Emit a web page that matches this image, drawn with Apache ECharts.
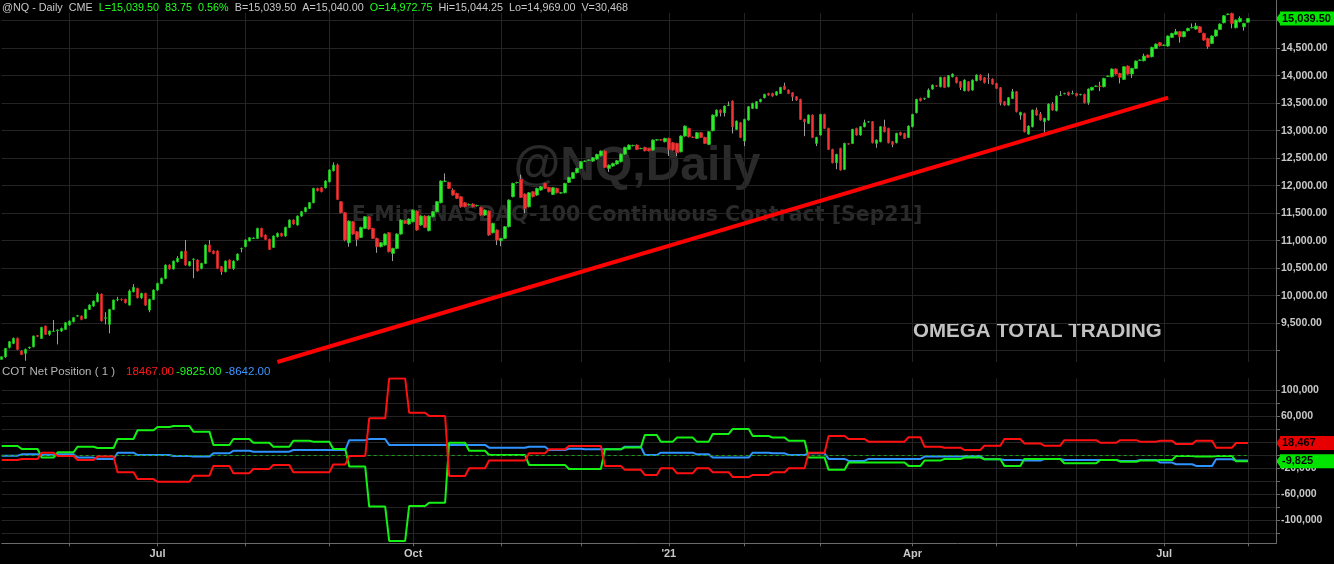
<!DOCTYPE html>
<html>
<head>
<meta charset="utf-8">
<title>@NQ Daily - COT Net Position</title>
<script src="https://cdn.jsdelivr.net/npm/echarts@6/dist/echarts.min.js"></script>
<style>
  html, body { margin: 0; padding: 0; background: #000; }
  #main { width: 1334px; height: 564px; }
</style>
</head>
<body>
<div id="main"></div>
<script>
// exchange holidays, no daily bar on these days
const holidays = ['2020-05-25', '2020-07-03', '2020-09-07', '2020-11-26', '2020-12-25',
  '2021-01-01', '2021-01-18', '2021-02-15', '2021-04-02', '2021-05-31', '2021-07-05']
const firstDay = '2020-05-06'
const slotCount = 320 // 313 bars + empty room before the price scale

// daily bars [open, close, low, high]
const ohlc = [
  [8842, 8891, 8820, 8905], [8891, 9042, 8870, 9050], [9061, 9164, 9040, 9175], [9133, 9224, 9120, 9240],
  [9224, 9024, 9010, 9240], [8994, 8933, 8920, 9010], [8952, 9024, 8818, 9040], [9050, 9061, 9030, 9075],
  [9073, 9267, 9060, 9275], [9275, 9262, 9250, 9285], [9224, 9424, 9215, 9435], [9448, 9297, 9290, 9455],
  [9297, 9358, 9270, 9365], [9352, 9358, 9340, 9558], [9365, 9376, 9115, 9390], [9358, 9406, 9340, 9420],
  [9388, 9509, 9380, 9520], [9467, 9539, 9455, 9550], [9527, 9600, 9515, 9612], [9630, 9636, 9620, 9650],
  [9630, 9570, 9555, 9640], [9588, 9751, 9575, 9760], [9751, 9830, 9740, 9845], [9812, 9903, 9800, 9915],
  [9891, 10030, 9880, 10060], [10030, 9545, 9530, 10040], [9590, 9600, 9480, 9700], [9479, 9751, 9315, 9760],
  [9751, 9921, 9740, 9930], [9927, 9933, 9900, 9980], [9933, 9930, 9910, 9950], [9933, 9873, 9860, 9945],
  [9830, 10085, 9820, 10115], [10073, 10151, 10060, 10210], [10133, 9964, 9950, 10145], [9964, 10042, 9940, 10055],
  [10042, 9830, 9815, 10055], [9740, 9933, 9700, 9945], [9933, 10103, 9920, 10115], [10103, 10224, 10090, 10235],
  [10224, 10315, 10210, 10330], [10315, 10558, 10300, 10570], [10558, 10485, 10475, 10570], [10485, 10630, 10475, 10640],
  [10618, 10679, 10605, 10720], [10679, 10800, 10670, 10815], [10812, 10558, 10545, 11012], [10545, 10618, 10535, 10630],
  [10660, 10667, 10320, 10680], [10648, 10454, 10440, 10660], [10497, 10588, 10480, 10600], [10588, 10921, 10575, 10935],
  [10921, 10800, 10790, 11012], [10812, 10769, 10755, 10825], [10812, 10497, 10485, 10825], [10527, 10436, 10380, 10540],
  [10436, 10630, 10425, 10640], [10648, 10497, 10485, 10660], [10497, 10630, 10470, 10645], [10648, 10757, 10636, 10770],
  [10855, 10860, 10790, 10875], [10891, 11012, 10880, 11025], [10994, 11054, 10985, 11065], [11040, 11048, 11030, 11060],
  [11042, 11224, 11030, 11235], [11224, 11073, 11060, 11235], [11103, 11024, 11012, 11115], [11024, 10842, 10830, 11036],
  [10879, 11085, 10870, 11097], [11073, 11133, 11060, 11150], [11133, 11085, 11075, 11145], [11085, 11242, 11073, 11255],
  [11242, 11376, 11230, 11388], [11376, 11303, 11290, 11388], [11285, 11448, 11273, 11460], [11448, 11527, 11436, 11540],
  [11527, 11600, 11515, 11615], [11588, 11691, 11576, 11703], [11691, 11951, 11680, 11963], [11951, 11909, 11897, 11963],
  [11963, 11891, 11880, 11975], [11963, 12085, 11950, 12100], [12072, 12285, 12060, 12300], [12272, 12375, 12260, 12424],
  [12375, 11751, 11740, 12400], [11709, 11509, 11497, 11721], [11509, 11012, 10990, 11521], [10963, 11357, 10891, 11370],
  [11345, 11121, 11109, 11357], [11163, 11024, 10900, 11175], [11060, 11242, 11048, 11255], [11224, 11436, 11212, 11448],
  [11436, 11212, 11200, 11448], [11224, 11042, 11030, 11236], [11042, 10891, 10780, 11054], [10891, 10963, 10880, 10975],
  [10921, 11121, 10909, 11133], [11145, 10800, 10788, 11157], [10769, 10860, 10630, 10872], [10860, 11121, 10848, 11133],
  [11121, 11376, 11109, 11388], [11364, 11315, 11303, 11376], [11303, 11394, 11291, 11406], [11345, 11557, 11333, 11569],
  [11539, 11194, 11182, 11551], [11285, 11448, 11273, 11460], [11448, 11242, 11230, 11460], [11182, 11448, 11170, 11460],
  [11436, 11527, 11424, 11539], [11527, 11709, 11515, 11721], [11691, 12085, 11679, 12097], [12078, 12085, 12066, 12224],
  [12060, 11951, 11939, 12072], [11921, 11830, 11818, 11950], [11860, 11769, 11757, 11872], [11800, 11618, 11600, 11812],
  [11690, 11618, 11606, 11702], [11655, 11660, 11640, 11675], [11666, 11618, 11606, 11680], [11636, 11640, 11620, 11655],
  [11606, 11466, 11454, 11618], [11466, 11557, 11454, 11570], [11539, 11103, 11090, 11551], [11145, 11315, 11133, 11327],
  [11194, 11012, 10921, 11206], [11000, 11042, 10900, 11054], [11042, 11254, 11030, 11266], [11254, 11739, 11242, 11751],
  [11800, 12042, 11788, 12054], [12054, 12060, 12040, 12072], [12115, 11788, 11776, 12200], [11848, 11588, 11500, 11860],
  [11618, 11872, 11606, 11884], [11891, 11800, 11788, 11903], [11830, 11951, 11818, 11963], [11921, 11982, 11909, 11994],
  [12042, 11951, 11939, 12054], [11969, 11891, 11879, 11981], [11842, 11963, 11830, 11975], [11951, 11872, 11860, 11963],
  [11866, 11872, 11854, 11884], [11872, 12042, 11860, 12054], [12060, 12151, 12048, 12163], [12133, 12236, 12121, 12248],
  [12236, 12315, 12224, 12327], [12315, 12436, 12303, 12448], [12442, 12448, 12430, 12460], [12460, 12466, 12448, 12478],
  [12448, 12509, 12436, 12521], [12485, 12569, 12473, 12581], [12545, 12630, 12533, 12642], [12630, 12333, 12321, 12642],
  [12315, 12375, 12250, 12387], [12357, 12406, 12345, 12418], [12394, 12454, 12382, 12466], [12436, 12575, 12424, 12587],
  [12575, 12697, 12563, 12709], [12660, 12739, 12648, 12751], [12727, 12733, 12715, 12745], [12739, 12660, 12648, 12751],
  [12675, 12678, 12663, 12690], [12697, 12636, 12624, 12709], [12678, 12636, 12624, 12690], [12648, 12830, 12636, 12842],
  [12830, 12836, 12818, 12848], [12836, 12830, 12818, 12848], [12800, 12860, 12788, 12872], [12860, 12660, 12540, 12872],
  [12781, 12648, 12636, 12793], [12769, 12600, 12540, 12781], [12618, 12903, 12606, 12915], [12903, 13084, 12891, 13096],
  [13042, 12890, 12878, 13054], [12884, 12878, 12866, 12896], [12860, 12963, 12848, 12975], [12963, 12878, 12866, 12975],
  [12878, 12769, 12757, 12890], [12751, 12981, 12739, 12993], [13000, 13284, 12988, 13296], [13266, 13375, 13254, 13387],
  [13375, 13327, 13260, 13387], [13327, 13448, 13260, 13460], [13460, 13466, 13448, 13530], [13539, 13072, 12950, 13551],
  [13024, 13175, 13012, 13187], [13145, 12878, 12866, 13157], [12812, 13206, 12720, 13218], [13194, 13436, 13182, 13448],
  [13406, 13497, 13394, 13509], [13406, 13527, 13394, 13539], [13527, 13569, 13515, 13581], [13600, 13660, 13588, 13672],
  [13678, 13648, 13636, 13690], [13678, 13630, 13618, 13690], [13648, 13709, 13636, 13721], [13678, 13787, 13666, 13799],
  [13811, 13751, 13739, 13872], [13739, 13678, 13666, 13751], [13690, 13618, 13540, 13702], [13618, 13557, 13545, 13630],
  [13569, 13206, 13194, 13581], [13206, 13163, 12900, 13218], [13133, 13284, 13121, 13296], [13284, 12878, 12866, 13296],
  [12769, 12878, 12720, 12890], [12921, 13296, 12909, 13308], [13296, 13042, 13030, 13308], [13042, 12660, 12648, 13054],
  [12660, 12418, 12406, 12672], [12418, 12569, 12300, 12581], [12678, 12285, 12273, 12690], [12297, 12769, 12285, 12781],
  [12763, 12757, 12745, 12775], [12769, 13024, 12757, 13036], [13042, 12921, 12909, 13054], [12921, 13072, 12909, 13084],
  [13072, 13145, 13060, 13200], [13160, 13163, 13148, 13175], [13163, 12781, 12769, 13175], [12769, 12830, 12690, 12842],
  [12800, 13072, 12788, 13084], [13072, 12981, 12969, 13200], [13042, 12781, 12769, 13054], [12800, 12751, 12700, 12812],
  [12781, 12951, 12769, 12963], [12969, 12921, 12909, 12981], [12951, 12860, 12848, 12963], [12878, 13084, 12866, 13096],
  [13072, 13296, 13060, 13308], [13327, 13569, 13315, 13581], [13587, 13545, 13533, 13599], [13580, 13587, 13560, 13599],
  [13606, 13739, 13594, 13770], [13757, 13830, 13745, 13842], [13818, 13812, 13800, 13824], [13800, 13969, 13788, 13981],
  [13969, 13787, 13775, 13981], [13800, 14000, 13788, 14012], [13981, 14030, 13969, 14042], [13969, 13872, 13860, 13981],
  [13890, 13787, 13740, 13902], [13727, 13921, 13715, 13933], [13890, 13727, 13715, 13902], [13739, 13921, 13727, 13933],
  [13909, 14012, 13897, 14024], [14012, 13921, 13909, 14024], [13963, 13872, 13860, 13975], [13951, 13945, 13850, 14042],
  [13939, 13848, 13836, 13951], [13860, 13769, 13757, 13872], [13781, 13509, 13460, 13793], [13527, 13466, 13454, 13539],
  [13466, 13600, 13454, 13612], [13587, 13709, 13575, 13760], [13709, 13345, 13333, 13721], [13284, 13333, 13200, 13345],
  [13315, 12981, 12969, 13327], [12939, 13084, 12927, 13096], [13072, 13375, 13060, 13387], [13375, 13284, 13272, 13420],
  [13303, 13194, 13182, 13340], [13163, 13224, 12960, 13236], [13194, 13484, 13182, 13496], [13484, 13375, 13363, 13520],
  [13363, 13630, 13351, 13642], [13642, 13648, 13630, 13720], [13672, 13678, 13660, 13690], [13697, 13648, 13636, 13709],
  [13672, 13678, 13660, 13730], [13678, 13636, 13624, 13690], [13654, 13660, 13642, 13672], [13660, 13509, 13497, 13672],
  [13509, 13757, 13470, 13769], [13739, 13787, 13727, 13799], [13806, 13812, 13794, 13824], [13812, 13806, 13720, 13890],
  [13800, 13951, 13788, 13963], [13987, 13993, 13975, 14005], [13981, 14121, 13969, 14133], [14121, 14030, 14018, 14133],
  [14042, 13969, 13860, 14054], [13933, 14163, 13921, 14175], [14175, 14030, 14018, 14187], [14030, 14133, 13960, 14145],
  [14133, 14266, 14121, 14278], [14278, 14284, 14266, 14296], [14272, 14357, 14260, 14400], [14375, 14333, 14321, 14387],
  [14345, 14515, 14333, 14527], [14496, 14575, 14484, 14587], [14600, 14545, 14533, 14612], [14551, 14557, 14539, 14569],
  [14539, 14721, 14527, 14733], [14696, 14769, 14684, 14781], [14751, 14800, 14739, 14850], [14800, 14709, 14600, 14812],
  [14709, 14800, 14697, 14812], [14818, 14860, 14806, 14872], [14872, 14878, 14860, 14950], [14848, 14902, 14836, 14960],
  [14890, 14787, 14775, 14902], [14769, 14648, 14636, 14781], [14678, 14527, 14490, 14690], [14587, 14721, 14575, 14733],
  [14721, 14830, 14709, 14842], [14842, 14939, 14830, 14951], [14963, 15090, 14951, 15102], [15115, 15121, 15100, 15133],
  [15133, 14951, 14860, 15145], [14872, 15012, 14860, 15024], [14981, 15042, 14969, 15080], [14890, 14951, 14820, 14963],
  [14972.75, 15039.5, 14969, 15044.25]
]

// COT net position, one value per report week (takes effect on the Wednesday bar)
const cotRed = [-7600, -6100, 3600, -1500, -7600, -2500, -26600, -37100, -41200, -41200, -32000, -16800,
  -28000, -21600, -15300, -26600, -26600, -14700, -1500, 56500, 118000, 65300, 60200,
  -32300, -20500, -8600, -8600, 2600, 8700, 13800, 13800, -16800, -22900, -30800, -20500,
  -28000, -20500, -26600, -34100, -30800, -26600, -20500, 3600, 29300, 24700, 20600,
  20600, 27300, 12800, 11300, 7700, 14400, 24700, 17800, 14400, 22900, 22900, 18900,
  22900, 20600, 21900, 16800, 21900, 11300, 18467]
const cotGreen = [13800, 9300, -4000, 4200, 12800, 10700, 24700, 38200, 43300, 44800, 36000, 15500,
  24700, 18900, 12800, 21900, 20600, 9300, -17800, -79600, -132600, -78700, -73500,
  18900, 6600, 0, 0, -15300, -15300, -21600, -21600, 8700, 11700, 30900, 20600,
  26800, 20600, 32400, 40200, 29300, 26800, 21900, -4000, -22900, -11700, -11700,
  -11700, -16800, -8600, -6100, -4000, -6600, -16800, -6100, -6100, -12700, -12700, -7600,
  -10300, -8600, -7600, -1500, -2500, -1500, -9825]
const cotBlue = [-1000, 1000, 0, 1000, -4000, -6100, 3600, 0, 0, -1500, -2500, 2600,
  6600, 5100, 5100, 7700, 7700, 7700, 22900, 24500, 15500, 15500, 15500,
  15500, 15500, 11300, 11300, 12800, 7700, 9700, 8700, 8700, 12800, 0, 3600,
  3600, 1000, -4000, -4000, 3600, 2600, 0, 2600, -6100, -9100, -6100,
  -6100, -6100, -2500, -2500, -1500, -6600, -7600, -8600, -6100, -7600, -7600, -7600,
  -9100, -7600, -11700, -14300, -16800, -6600, -8642]

// trend line drawn on the price panel
const trendDates = ['2020-08-13', '2021-07-02']
const trendValues = [8795, 13600]

// quarter labels on the time axis
const labelMonths = ['2020-07', '2020-10', '2021-01', '2021-04', '2021-07']
const labelTexts = ['Jul', 'Oct', '\'21', 'Apr', 'Jul']

// quote line at the top: [text, style]
const quoteParts = [
  ['@NQ - Daily', 'g'], ['CME', 'g'], ['L=15,039.50', 'u'], ['83.75', 'u'], ['0.56%', 'u'],
  ['B=15,039.50', 'g'], ['A=15,040.00', 'g'], ['O=14,972.75', 'u'], ['Hi=15,044.25', 'g'],
  ['Lo=14,969.00', 'g'], ['V=30,468', 'g']
]

const FONT = '\'Liberation Sans\', Arial, sans-serif'
const GRID_COLOR = '#242424'
const AXIS_COLOR = '#6a6a6a'
const UP = '#2cec2c'
const DOWN = '#f53535'

// trading days
const dates = []
let day = new Date(firstDay + 'T00:00:00Z')
while (dates.length < slotCount) {
  const s = day.toISOString().slice(0, 10)
  const wd = day.getUTCDay()
  if (wd !== 0 && wd !== 6 && holidays.indexOf(s) < 0) dates.push(s)
  day.setUTCDate(day.getUTCDate() + 1)
}

function isMonthStart (index) {
  return index > 0 && dates[index].slice(0, 7) !== dates[index - 1].slice(0, 7)
}
function isQuarterStart (index) {
  return isMonthStart(index) && labelMonths.indexOf(dates[index].slice(0, 7)) >= 0
}
function commas (n, d) {
  return n.toFixed(d).replace(/\B(?=(\d{3})+(?!\d))/g, ',')
}

// weekly COT values shown on each daily bar
const weekMs = 7 * 24 * 3600 * 1000
function daily (weekly) {
  const out = []
  for (let i = 0; i < ohlc.length; i++) {
    const w = Math.floor((Date.parse(dates[i]) - Date.parse(firstDay)) / weekMs)
    out.push(weekly[w])
  }
  return out
}

// bodies only (no wick), drawn over the grey wick series
const bodies = ohlc.map(r => [r[0], r[1], Math.min(r[0], r[1]), Math.max(r[0], r[1])])

function valueTag (value, text, bg) {
  return {
    markLine: {
      silent: true,
      symbol: ['none', 'none'],
      lineStyle: {color: 'rgba(0,0,0,0)', width: 1},
      label: {
        show: true,
        position: 'end',
        distance: 4,
        formatter: text,
        backgroundColor: bg,
        color: '#000',
        fontFamily: FONT,
        fontSize: 11,
        fontWeight: 'bold',
        lineHeight: 13,
        width: 50,
        padding: [1, 2, 0, 2]
      },
      data: [{yAxis: value}]
    },
    markPoint: {
      silent: true,
      symbol: 'triangle',
      symbolSize: [13, 5],
      symbolRotate: 90,
      symbolOffset: [2.5, 0],
      itemStyle: {color: bg},
      label: {show: false},
      data: [{coord: [dates[slotCount - 1], value]}]
    }
  }
}

const chart = echarts.init(document.getElementById('main'))

const xBase = {
  type: 'category',
  data: dates,
  boundaryGap: false,
  splitLine: {show: true, interval: isMonthStart, lineStyle: {color: GRID_COLOR, width: 1}}
}

const option = {
  backgroundColor: '#000',
  animation: false,
  graphic: [
    {type: 'line', silent: true, z: 10, shape: {x1: 1276.5, y1: 0, x2: 1276.5, y2: 543.5}, style: {stroke: AXIS_COLOR, lineWidth: 1}},
    {type: 'text', x: 637, y: 167, z: -1, silent: true, style: {text: '@NQ,Daily', fill: '#2a2a2a', font: 'bold 48px ' + FONT, textAlign: 'center', textVerticalAlign: 'middle'}},
    {type: 'text', x: 637, y: 215.5, z: -1, silent: true, style: {text: 'E-Mini NASDAQ-100 Continuous Contract [Sep21]', fill: '#2a2a2a', font: 'bold 20.5px \'DejaVu Sans\', sans-serif', textAlign: 'center', textVerticalAlign: 'middle'}},
    {type: 'text', x: 913, y: 331, silent: true, style: {text: 'OMEGA TOTAL TRADING', fill: '#c2c2c2', font: 'bold 20.5px ' + FONT, textVerticalAlign: 'middle'}},
    {
      type: 'text', x: 2, y: 8, silent: true,
      style: {
        text: quoteParts.map(p => '{' + p[1] + '|' + p[0] + '}').join('  '),
        font: '10.8px ' + FONT,
        fill: '#c8c8c8',
        textVerticalAlign: 'middle',
        rich: {
          g: {fill: '#c8c8c8', font: '10.8px ' + FONT},
          u: {fill: '#22ff22', font: '10.8px ' + FONT}
        }
      }
    },
    // indicator title
    {type: 'text', x: 2, y: 372, silent: true, style: {text: 'COT Net Position ( 1 )', fill: '#b4b4b4', font: '11.5px ' + FONT, textVerticalAlign: 'middle'}},
    {type: 'text', x: 126, y: 372, silent: true, style: {text: '18467.00', fill: '#ff1a1a', font: '11.5px ' + FONT, textVerticalAlign: 'middle'}},
    {type: 'text', x: 176, y: 372, silent: true, style: {text: '-9825.00', fill: '#1aff1a', font: '11.5px ' + FONT, textVerticalAlign: 'middle'}},
    {type: 'text', x: 225, y: 372, silent: true, style: {text: '-8642.00', fill: '#3a96ff', font: '11.5px ' + FONT, textVerticalAlign: 'middle'}}
  ],
  grid: [
    {left: 1.7, right: 58, top: 13, bottom: 202},
    {left: 1.7, right: 58, top: 378.3, bottom: 20.7}
  ],
  xAxis: [
    Object.assign({}, xBase, {
      gridIndex: 0,
      axisLine: {show: false, onZero: false},
      axisTick: {show: false},
      axisLabel: {show: false}
    }),
    Object.assign({}, xBase, {
      gridIndex: 1,
      axisLine: {show: true, onZero: false, lineStyle: {color: AXIS_COLOR}},
      axisTick: {show: true, interval: isMonthStart, length: 3, lineStyle: {color: AXIS_COLOR}},
      axisLabel: {
        show: true,
        interval: isQuarterStart,
        margin: 5,
        color: '#c8c8c8',
        fontFamily: FONT,
        fontSize: 11,
        fontWeight: 'bold',
        formatter: function (value) {
          return labelTexts[labelMonths.indexOf(value.slice(0, 7))] || ''
        }
      }
    })
  ],
  yAxis: [
    {
      type: 'value',
      gridIndex: 0,
      position: 'right',
      min: 8795,
      max: 15140,
      minInterval: 500,
      maxInterval: 500,
      axisLine: {show: true, lineStyle: {color: AXIS_COLOR}},
      axisTick: {show: true, length: 4, lineStyle: {color: AXIS_COLOR}},
      splitLine: {show: true, showMinLine: false, showMaxLine: false, lineStyle: {color: GRID_COLOR}},
      axisLabel: {
        margin: 5,
        color: '#c8c8c8',
        fontFamily: FONT,
        fontSize: 10.5,
        fontWeight: 'bold',
        showMinLabel: false,
        showMaxLabel: false,
        formatter: function (v) {
          if (v % 500 !== 0 || v === 9000 || v === 15000) return ''
          return commas(v, 2)
        }
      }
    },
    {
      type: 'value',
      gridIndex: 1,
      position: 'right',
      min: -136200,
      max: 118300,
      minInterval: 20000,
      maxInterval: 20000,
      axisLine: {show: true, lineStyle: {color: AXIS_COLOR}},
      axisTick: {show: true, length: 4, lineStyle: {color: AXIS_COLOR}},
      splitLine: {show: true, showMinLine: false, showMaxLine: false, lineStyle: {color: GRID_COLOR}},
      axisLabel: {
        margin: 5,
        color: '#c8c8c8',
        fontFamily: FONT,
        fontSize: 10.5,
        fontWeight: 'bold',
        showMinLabel: false,
        showMaxLabel: false,
        formatter: function (v) {
          if (v % 20000 !== 0 || (v / 1000 - 20) % 40 !== 0) return ''
          return commas(v, 0)
        }
      }
    }
  ],
  series: [
    {
      name: 'wicks',
      type: 'candlestick',
      xAxisIndex: 0,
      yAxisIndex: 0,
      barWidth: 1,
      z: 2,
      silent: true,
      itemStyle: {color: '#9c9c9c', color0: '#9c9c9c', borderColor: '#9c9c9c', borderColor0: '#9c9c9c', borderWidth: 1},
      data: ohlc
    },
    Object.assign({
      name: '@NQ',
      type: 'candlestick',
      xAxisIndex: 0,
      yAxisIndex: 0,
      barWidth: 3,
      z: 3,
      silent: true,
      itemStyle: {color: UP, color0: DOWN, borderColor: '#1fc21f', borderColor0: '#d42424', borderWidth: 0.8},
      data: bodies
    }, valueTag(15039.5, '15,039.50', '#00e400')),
    {
      name: 'trend',
      type: 'line',
      xAxisIndex: 0,
      yAxisIndex: 0,
      z: 5,
      silent: true,
      showSymbol: false,
      symbol: 'none',
      lineStyle: {color: '#ff0000', width: 4},
      data: trendDates.map((d, i) => [d, trendValues[i]])
    },
    {
      name: 'blue',
      type: 'line',
      xAxisIndex: 1,
      yAxisIndex: 1,
      z: 3,
      silent: true,
      symbol: 'none',
      lineStyle: {color: '#2f93ff', width: 2},
      data: daily(cotBlue),
      markLine: {
        silent: true,
        symbol: ['none', 'none'],
        label: {show: false},
        lineStyle: {color: '#1f9a1f', type: [3, 3], width: 1},
        data: [[{coord: [dates[0], 0]}, {coord: [dates[ohlc.length - 1], 0]}]]
      }
    },
    Object.assign({
      name: 'green',
      type: 'line',
      xAxisIndex: 1,
      yAxisIndex: 1,
      z: 4,
      silent: true,
      symbol: 'none',
      lineStyle: {color: '#14f014', width: 2},
      data: daily(cotGreen)
    }, valueTag(-9825, '-9,825', '#00e400')),
    Object.assign({
      name: 'red',
      type: 'line',
      xAxisIndex: 1,
      yAxisIndex: 1,
      z: 5,
      silent: true,
      symbol: 'none',
      lineStyle: {color: '#ff1010', width: 2},
      data: daily(cotRed)
    }, valueTag(18467, '18,467', '#e60000'))
  ]
}

chart.setOption(option)
</script>
</body>
</html>
